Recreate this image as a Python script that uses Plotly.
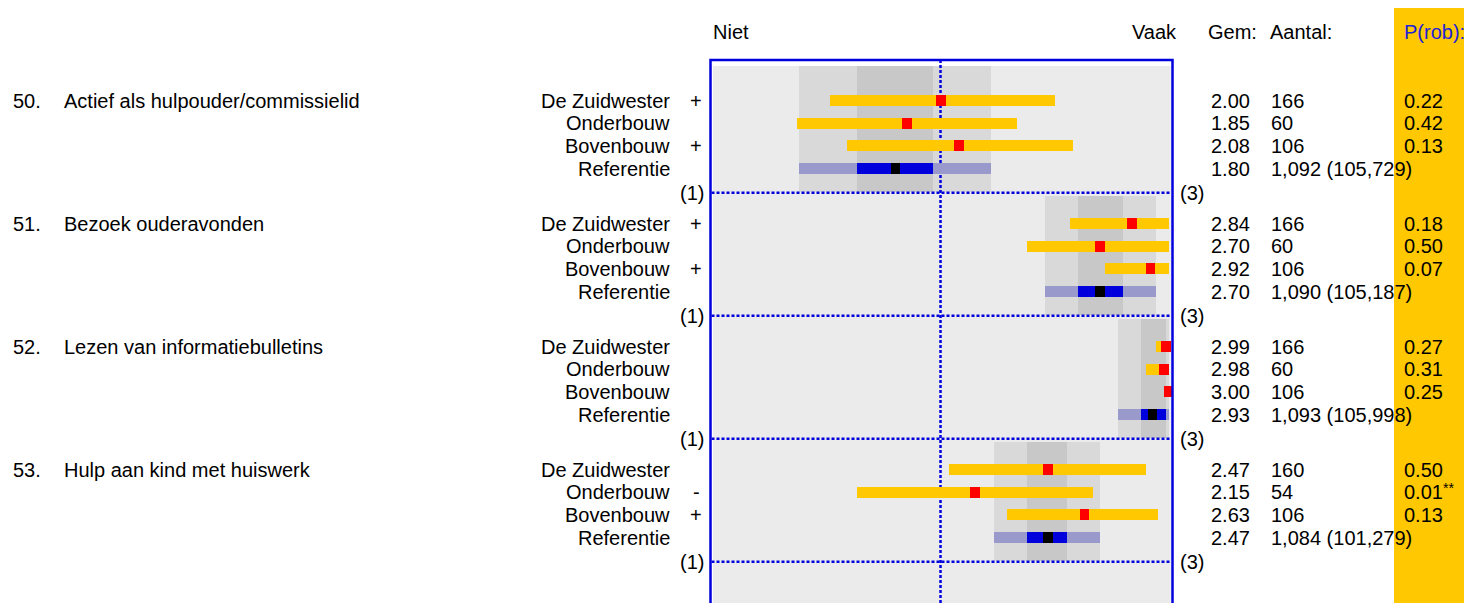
import plotly.graph_objects as go

# ---------------- data ----------------
question_numbers = ["50.", "51.", "52.", "53."]
question_texts = [
    "Actief als hulpouder/commissielid",
    "Bezoek ouderavonden",
    "Lezen van informatiebulletins",
    "Hulp aan kind met huiswerk",
]
groups = ["De Zuidwester", "Onderbouw", "Bovenbouw"]
ref_label = "Referentie"

# yellow bars (range) per question / group
grp_low = [[1.510, 1.365, 1.585], [2.569, 2.380, 2.723], [2.943, 2.899, 2.980], [2.037, 1.629, 2.292]]
grp_high = [[2.503, 2.336, 2.582], [3.000, 3.000, 3.000], [3.000, 3.000, 3.000], [2.903, 2.670, 2.956]]
grp_mean = [[2.00, 1.85, 2.08], [2.84, 2.70, 2.92], [2.99, 2.98, 3.00], [2.47, 2.15, 2.63]]
grp_n = [[166, 60, 106], [166, 60, 106], [166, 60, 106], [160, 54, 106]]
grp_p = [["0.22", "0.42", "0.13"], ["0.18", "0.50", "0.07"], ["0.27", "0.31", "0.25"], ["0.50", "0.01**", "0.13"]]
grp_sign = [["+", "", "+"], ["+", "", "+"], ["", "", ""], ["", "-", "+"]]

# reference bars
ref_outer_low = [1.374, 2.459, 2.776, 2.235]
ref_outer_high = [2.218, 2.947, 3.000, 2.701]
ref_inner_low = [1.629, 2.604, 2.877, 2.380]
ref_inner_high = [1.963, 2.802, 2.987, 2.556]
ref_mean = [1.80, 2.70, 2.93, 2.47]
ref_n = ["1,092 (105,729)", "1,090 (105,187)", "1,093 (105,998)", "1,084 (101,279)"]

scale_left, scale_right = "Niet", "Vaak"
scale_min_label, scale_max_label = "(1)", "(3)"
col_headers = ["Gem:", "Aantal:", "P(rob):"]

# ---------------- layout constants ----------------
W, H = 1464, 603
PXU = 227.5                  # pixels per scale unit
X1PX = 713.0                 # pixel of value 1
FRAME_L, FRAME_R, FRAME_T = 710.5, 1172.5, 60.0
XR0 = 1 - (X1PX - FRAME_L) / PXU
XR1 = 3 + (FRAME_R - (X1PX + 2 * PXU)) / PXU
ROW0, ROW_STEP, BLOCK_STEP, DIV0 = 100.5, 22.7, 123.0, 192.8
BAR_H = 11
MARK_W = 0.042

YELLOW = "#FFC800"
RED = "#FF0000"
REF_OUT = "#9999CC"
REF_IN = "#0000DD"
BG = "#EBEBEB"
BAND_OUT = "#D9D9D9"
BAND_IN = "#C8C8C8"
LINE = "#0000DD"
P_BLUE = "#2222D8"
FONT = "Liberation Sans, Arial, sans-serif"
FS = 20


def px(xp):
    return xp / W


def py(yp):
    return 1 - yp / H


def row_y(i, j):
    return ROW0 + i * BLOCK_STEP + j * ROW_STEP


def div_y(i):
    return DIV0 + i * BLOCK_STEP


nq = len(question_numbers)
fig = go.Figure()

# ---- background bands (reference ranges extended over block) ----
band_tops = [66.0 if i == 0 else div_y(i - 1) + 3 for i in range(nq)]
band_bots = [div_y(i) - 1 for i in range(nq)]
band_c = [(t + b) / 2 for t, b in zip(band_tops, band_bots)]
band_w = [b - t for t, b in zip(band_tops, band_bots)]
fig.add_trace(go.Bar(orientation="h", y=band_c, width=band_w, base=ref_outer_low,
                     x=[h - l for l, h in zip(ref_outer_low, ref_outer_high)],
                     marker=dict(color=BAND_OUT, line=dict(width=0)), zorder=0, hoverinfo="skip"))
fig.add_trace(go.Bar(orientation="h", y=band_c, width=band_w, base=ref_inner_low,
                     x=[h - l for l, h in zip(ref_inner_low, ref_inner_high)],
                     marker=dict(color=BAND_IN, line=dict(width=0)), zorder=0, hoverinfo="skip"))

# ---- dotted lines ----
hx, hy = [], []
for i in range(nq):
    hx += [1 - 1.5 / PXU, 3 + 2.7 / PXU, None]
    hy += [div_y(i), div_y(i), None]
fig.add_trace(go.Scatter(x=hx, y=hy, mode="lines", line=dict(color=LINE, width=2.5, dash="3px,2px"),
                         zorder=1, hoverinfo="skip"))
fig.add_trace(go.Scatter(x=[2, 2], y=[FRAME_T, H + 50], mode="lines",
                         line=dict(color=LINE, width=2.5, dash="3px,2px"), zorder=1, hoverinfo="skip"))

# ---- group bars ----
gy, gb, gx, my, mb = [], [], [], [], []
for i in range(nq):
    for j in range(len(groups)):
        gy.append(row_y(i, j))
        gb.append(grp_low[i][j])
        gx.append(grp_high[i][j] - grp_low[i][j])
        my.append(row_y(i, j))
        mb.append(grp_mean[i][j] - MARK_W / 2)
fig.add_trace(go.Bar(orientation="h", y=gy, base=gb, x=gx, width=BAR_H,
                     marker=dict(color=YELLOW, line=dict(width=0)), zorder=2, hoverinfo="skip"))
fig.add_trace(go.Bar(orientation="h", y=my, base=mb, x=[MARK_W] * len(my), width=BAR_H,
                     marker=dict(color=RED, line=dict(width=0)), zorder=3, hoverinfo="skip"))

# ---- reference bars ----
ry = [row_y(i, 3) for i in range(nq)]
fig.add_trace(go.Bar(orientation="h", y=ry, base=ref_outer_low,
                     x=[h - l for l, h in zip(ref_outer_low, ref_outer_high)], width=BAR_H,
                     marker=dict(color=REF_OUT, line=dict(width=0)), zorder=2, hoverinfo="skip"))
fig.add_trace(go.Bar(orientation="h", y=ry, base=ref_inner_low,
                     x=[h - l for l, h in zip(ref_inner_low, ref_inner_high)], width=BAR_H,
                     marker=dict(color=REF_IN, line=dict(width=0)), zorder=2, hoverinfo="skip"))
fig.add_trace(go.Bar(orientation="h", y=ry, base=[m - MARK_W / 2 for m in ref_mean],
                     x=[MARK_W] * nq, width=BAR_H,
                     marker=dict(color="#000000", line=dict(width=0)), zorder=3, hoverinfo="skip"))

# ---- annotations ----
ann = []


def text(x, y, s, anchor="left", color="black", size=FS):
    ann.append(dict(x=px(x), xref="paper", y=y, yref="y", text=s, showarrow=False,
                    xanchor=anchor, yanchor="middle", font=dict(family=FONT, size=size, color=color)))


# headers
text(711, 32, scale_left)
text(1179, 32, scale_right, "right")
text(1206, 32, col_headers[0])
text(1268, 32, col_headers[1])
text(1402, 32, col_headers[2], color=P_BLUE)

for i in range(nq):
    text(11, row_y(i, 0), question_numbers[i])
    text(62, row_y(i, 0), question_texts[i])
    labels = groups + [ref_label]
    for j, lab in enumerate(labels):
        y = row_y(i, j)
        text(672, y, lab, "right")
        if j < len(groups):
            if grp_sign[i][j]:
                text(696, y, grp_sign[i][j], "center")
            text(1252, y, f"{grp_mean[i][j]:.2f}", "right")
            text(1269, y, str(grp_n[i][j]))
            p = grp_p[i][j]
            stars = ""
            while p.endswith("*"):
                p, stars = p[:-1], stars + "*"
            text(1402, y, p)
            if stars:
                text(1441, y - 4, stars, size=14)
        else:
            text(1252, y, f"{ref_mean[i]:.2f}", "right")
            text(1269, y, ref_n[i])
    text(706, div_y(i), scale_min_label, "right")
    text(1178, div_y(i), scale_max_label)

shapes = [
    # P(rob) column
    dict(type="rect", xref="paper", yref="paper", x0=px(1394), x1=1.02, y0=py(8), y1=-0.1,
         fillcolor=YELLOW, line=dict(width=0), layer="below"),
    # inner background
    dict(type="rect", xref="x", yref="y", x0=1.0, x1=3 + 2.7 / PXU, y0=66, y1=H + 50,
         fillcolor=BG, line=dict(width=0), layer="below"),
    # frame
    dict(type="rect", xref="paper", yref="paper", x0=px(FRAME_L), x1=px(FRAME_R),
         y0=py(FRAME_T), y1=-0.2, line=dict(color=LINE, width=2.5), fillcolor="rgba(0,0,0,0)",
         layer="above"),
]

fig.update_layout(
    width=W, height=H, margin=dict(l=0, r=0, t=0, b=0),
    paper_bgcolor="white", plot_bgcolor="rgba(0,0,0,0)",
    barmode="overlay", bargap=0, showlegend=False,
    xaxis=dict(domain=[px(FRAME_L), px(FRAME_R)], range=[XR0, XR1], visible=False, fixedrange=True),
    yaxis=dict(domain=[0, 1], range=[H, 0], visible=False, fixedrange=True),
    annotations=ann, shapes=shapes,
)

fig.write_html(
    "out.html",
    config={"displayModeBar": False},
    post_script="document.body.style.margin='0';document.body.style.overflow='hidden';",
)
